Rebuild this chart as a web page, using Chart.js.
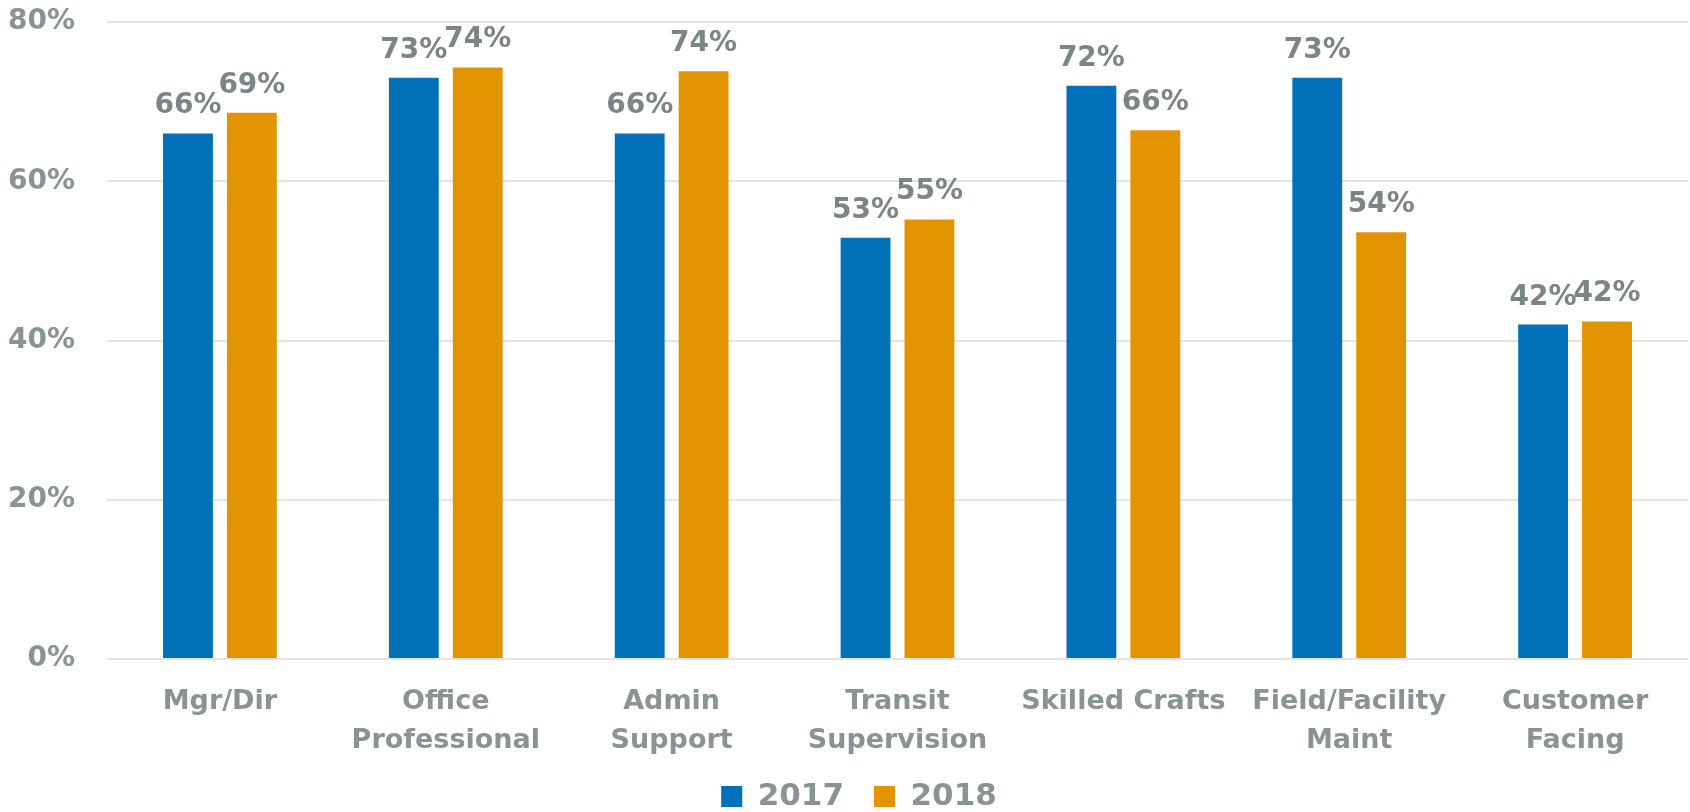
<!DOCTYPE html>
<html>
<head>
<meta charset="utf-8">
<script src="https://cdn.jsdelivr.net/npm/chart.js@4/dist/chart.umd.min.js"></script>
<style>
  html, body { margin: 0; padding: 0; background: #fff; }
  #wrap { width: 1690px; height: 812px; }
</style>
</head>
<body>
<div id="wrap"><canvas id="chart" width="1690" height="812"></canvas></div>
<script>
// categories and series
const categories = [
  ["Mgr/Dir"],
  ["Office", "Professional"],
  ["Admin", "Support"],
  ["Transit", "Supervision"],
  ["Skilled Crafts"],
  ["Field/Facility", "Maint"],
  ["Customer", "Facing"]
];
const values2017 = [66, 73, 66, 52.9, 72, 73, 42];
const values2018 = [68.6, 74.3, 73.8, 55.2, 66.4, 53.6, 42.4];
const yTicks = [0, 20, 40, 60, 80];

const gray = '#8b9294';
const labelGray = '#7c8486';

// draws the "66%" labels above each bar
const barLabels = {
  id: 'barLabels',
  afterDatasetsDraw(chart) {
    const ctx = chart.ctx;
    ctx.save();
    ctx.font = 'bold 28px "DejaVu Sans"';
    ctx.fillStyle = labelGray;
    ctx.textAlign = 'center';
    ctx.textBaseline = 'alphabetic';
    chart.data.datasets.forEach((ds, i) => {
      const meta = chart.getDatasetMeta(i);
      meta.data.forEach((bar, j) => {
        ctx.fillText(Math.round(ds.data[j]) + '%', bar.x, bar.y - 20);
      });
    });
    ctx.restore();
  }
};

// small nudges after layout: let the 2nd line of x labels show, move legend a bit right
const layoutTweaks = {
  id: 'layoutTweaks',
  afterLayout(chart) {
    chart.scales.x.bottom += 25;
    chart.legend.left += 30;
  }
};

new Chart(document.getElementById('chart'), {
  type: 'bar',
  data: {
    labels: categories,
    datasets: [
      {
        label: '2017',
        data: values2017,
        backgroundColor: '#0071b9',
        categoryPercentage: 0.566,
        barPercentage: 0.78
      },
      {
        label: '2018',
        data: values2018,
        backgroundColor: '#e29400',
        categoryPercentage: 0.566,
        barPercentage: 0.78
      }
    ]
  },
  options: {
    responsive: false,
    animation: false,
    layout: { padding: { top: 22, right: 2, left: 0, bottom: -10 } },
    scales: {
      x: {
        grid: { display: false },
        border: { display: false },
        afterFit(axis) {
          axis.height = 92;
        },
        ticks: {
          color: gray,
          padding: 15,
          maxRotation: 0,
          autoSkip: false,
          font: { family: '"DejaVu Sans"', weight: 'bold', size: 27, lineHeight: 1.45 }
        }
      },
      y: {
        min: 0,
        max: 80,
        afterBuildTicks(axis) {
          axis.ticks = yTicks.map(v => ({ value: v }));
        },
        afterFit(axis) {
          axis.width = 107;
          // tick padding should not push the plot down from the top
          axis.paddingTop = 0;
          axis.paddingBottom = 0;
        },
        grid: { color: '#e3e3e3', lineWidth: 2, drawTicks: false },
        border: { display: false },
        ticks: {
          color: gray,
          padding: 32,
          font: { family: '"DejaVu Sans"', weight: 'bold', size: 28 },
          callback: v => v + '%'
        }
      }
    },
    plugins: {
      tooltip: { enabled: false },
      legend: {
        position: 'bottom',
        labels: {
          color: gray,
          boxWidth: 21,
          boxHeight: 21,
          padding: 30,
          font: { family: '"DejaVu Sans"', weight: 'bold', size: 31 }
        }
      }
    }
  },
  plugins: [barLabels, layoutTweaks]
});
</script>
</body>
</html>
